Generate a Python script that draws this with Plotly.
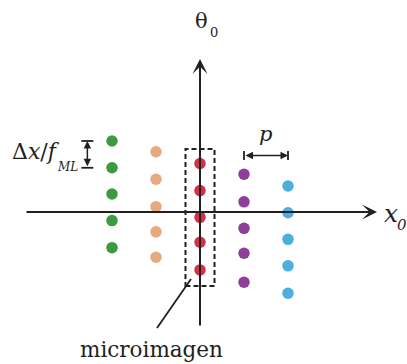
import plotly.graph_objects as go

# ---------------- data ----------------
# x0 position of each microlens column, in units of the pitch p
col_x = [-2, -1, 0, 1, 2]
# theta_0 values of the five samples in each column, in units of Δx/f_ML
theta_green = [2.65, 1.65, 0.67, -0.32, -1.33]
theta_orange = [2.25, 1.22, 0.20, -0.74, -1.69]
theta_red = [1.81, 0.80, -0.20, -1.13, -2.16]
theta_purple = [1.41, 0.38, -0.61, -1.54, -2.62]
theta_blue = [0.97, -0.03, -1.02, -2.01, -3.03]
series = [theta_green, theta_orange, theta_red, theta_purple, theta_blue]
colors = ["#3c9a40", "#e8a97f", "#d0324a", "#8f3f99", "#4daee0"]

label_theta = "θ"
label_x = "<i>x</i>"
label_sub = "0"
label_sub_i = "<i>0</i>"
label_p = "<i>p</i>"
label_dx = "Δ<i>x</i>/<i>f</i>"
label_ml = "<i>ML</i>"
label_micro = "microimagen"

# ---------------- layout helpers ----------------
W, H = 407, 364
OX, OY = 200.0, 212.0      # pixel position of origin
SX, SY = 44.0, 26.8        # pixels per data unit


def dx(px):
    return (px - OX) / SX


def dy(py):
    return (OY - py) / SY


AX = "#231f20"
SERIF = "DejaVu Serif"

fig = go.Figure()
for xv, th, c in zip(col_x, series, colors):
    fig.add_trace(go.Scatter(
        x=[xv] * len(th), y=th, mode="markers",
        marker=dict(size=11.5, color=c, line=dict(width=0)),
        showlegend=False, hoverinfo="skip"))

shapes = []
annotations = []

# axes with arrow heads
annotations.append(dict(x=0, y=dy(59), ax=0, ay=dy(327), xref="x", yref="y",
                        axref="x", ayref="y", text="", showarrow=True,
                        arrowhead=3, arrowsize=1.25, arrowwidth=2, arrowcolor=AX))
annotations.append(dict(x=dx(377), y=0, ax=dx(25), ay=0, xref="x", yref="y",
                        axref="x", ayref="y", text="", showarrow=True,
                        arrowhead=3, arrowsize=1.25, arrowwidth=2, arrowcolor=AX))

# dashed box around the central microimage
red_x = col_x[2]
shapes.append(dict(type="rect", xref="x", yref="y",
                   x0=red_x - 0.33, x1=red_x + 0.33,
                   y0=min(theta_red) - 0.6, y1=max(theta_red) + 0.54,
                   line=dict(color=AX, width=2, dash="5px,3px"),
                   fillcolor="rgba(0,0,0,0)", layer="below"))
# leader line to the label
shapes.append(dict(type="line", xref="x", yref="y",
                   x0=dx(157), y0=dy(328), x1=dx(191), y1=dy(279),
                   line=dict(color=AX, width=1.8)))

# Δx/f_ML dimension arrow (between the first two green samples)
gx = col_x[0] - 0.56
annotations.append(dict(x=gx, y=theta_green[0], ax=gx, ay=theta_green[1],
                        xref="x", yref="y", axref="x", ayref="y", text="",
                        showarrow=True, arrowside="end+start",
                        arrowhead=2, startarrowhead=2, arrowsize=1,
                        startarrowsize=1, arrowwidth=1.5, arrowcolor=AX))
for t in theta_green[:2]:
    shapes.append(dict(type="line", xref="x", yref="y", xsizemode="pixel",
                       xanchor=gx, x0=-6, x1=6, y0=t, y1=t,
                       line=dict(color=AX, width=1.8)))

# p dimension arrow (between purple and blue columns)
py_ = dy(155.5)
annotations.append(dict(x=col_x[4], y=py_, ax=col_x[3], ay=py_,
                        xref="x", yref="y", axref="x", ayref="y", text="",
                        showarrow=True, arrowside="end+start",
                        arrowhead=2, startarrowhead=2, arrowsize=1,
                        startarrowsize=1, arrowwidth=1.5, arrowcolor=AX))
for xv in col_x[3:5]:
    shapes.append(dict(type="line", xref="x", yref="y", ysizemode="pixel",
                       yanchor=py_, y0=-4.5, y1=4.5, x0=xv, x1=xv,
                       line=dict(color=AX, width=1.8)))


def label(text, px, py, size, xanchor="center"):
    annotations.append(dict(x=dx(px), y=dy(py), xref="x", yref="y",
                            text=text, showarrow=False, xanchor=xanchor,
                            yanchor="middle",
                            font=dict(family=SERIF, size=size, color=AX)))


label(label_theta, 201, 21, 21)
label(label_sub, 213.5, 32, 13)
label(label_x, 391, 213, 25)
label(label_sub_i, 401.5, 225, 15)
label(label_p, 265.5, 134, 21)
label(label_dx, 10, 151, 22, xanchor="left")
label(label_ml, 55, 167, 12, xanchor="left")
label(label_micro, 151, 349, 21.5)

fig.update_layout(
    width=W, height=H, autosize=False,
    margin=dict(l=0, r=0, t=0, b=0),
    paper_bgcolor="white", plot_bgcolor="white",
    font=dict(family=SERIF),
    xaxis=dict(range=[dx(0), dx(W)], visible=False, fixedrange=True),
    yaxis=dict(range=[dy(H), dy(0)], visible=False, fixedrange=True),
    shapes=shapes, annotations=annotations,
)

fig.write_html("out.html")
